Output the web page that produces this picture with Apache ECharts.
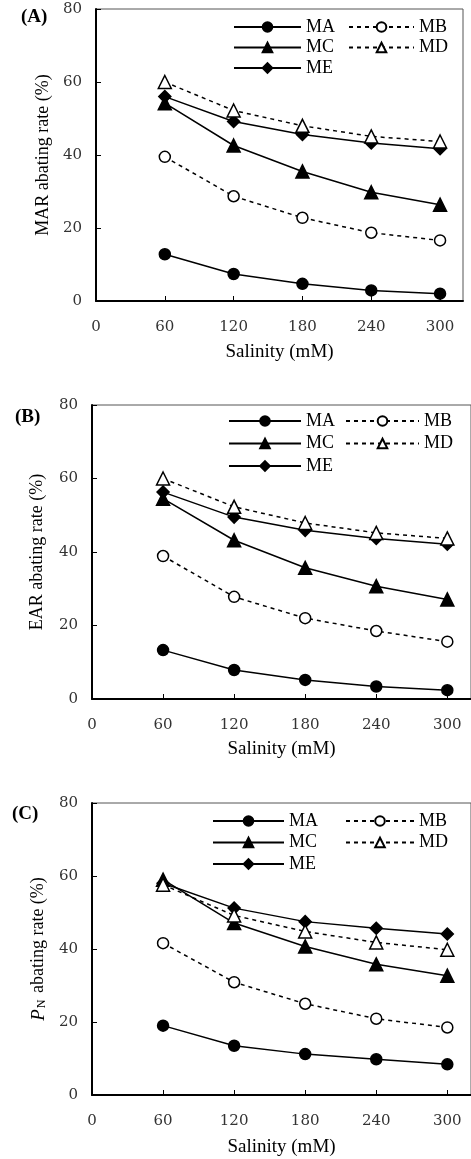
<!DOCTYPE html>
<html>
<head>
<meta charset="utf-8">
<script src="https://cdn.jsdelivr.net/npm/echarts@6/dist/echarts.min.js"></script>
<style>
  html, body { margin: 0; padding: 0; background: #fff; }
  #chart { width: 471px; height: 1159px; }
</style>
</head>
<body>
<div id="chart"></div>
<script>
// salinity levels (mM)
const salinity = [60, 120, 180, 240, 300];
const seriesNames = ['MA', 'MB', 'MC', 'MD', 'ME'];

// (A) MAR abating rate (%)
const marMA = [12.8, 7.4, 4.7, 2.9, 2.0];
const marMB = [39.5, 28.7, 22.8, 18.7, 16.6];
const marMC = [54.2, 42.6, 35.5, 29.8, 26.4];
const marMD = [60.0, 52.2, 48.0, 45.1, 43.7];
const marME = [56.0, 49.2, 45.6, 43.3, 41.7];

// (B) EAR abating rate (%)
const earMA = [13.3, 7.9, 5.2, 3.4, 2.4];
const earMB = [38.9, 27.8, 22.0, 18.5, 15.6];
const earMC = [54.5, 43.2, 35.7, 30.7, 27.1];
const earMD = [60.0, 52.3, 47.9, 45.2, 43.7];
const earME = [56.3, 49.5, 45.9, 43.7, 42.1];

// (C) PN abating rate (%)
const pnMA = [19.0, 13.5, 11.2, 9.8, 8.4];
const pnMB = [41.6, 30.9, 25.0, 20.9, 18.5];
const pnMC = [59.0, 47.1, 40.7, 35.8, 32.7];
const pnMD = [57.6, 49.2, 44.8, 41.8, 39.8];
const pnME = [58.0, 51.2, 47.5, 45.7, 44.1];

const panels = [
  { tag: '(A)', yName: 'MAR abating rate (%)', values: [marMA, marMB, marMC, marMD, marME] },
  { tag: '(B)', yName: 'EAR abating rate (%)', values: [earMA, earMB, earMC, earMD, earME] },
  { tag: '(C)', yName: '{i|P}{s|N} abating rate (%)', values: [pnMA, pnMB, pnMC, pnMD, pnME] }
];

// layout per panel
const grids = [
  { left: 96, top: 9, width: 367, height: 292 },
  { left: 92, top: 405, width: 380, height: 294 },
  { left: 92, top: 803, width: 380, height: 292 }
];
const tagPos = [[16, 3], [10, 403], [7, 800]];
const yNameGap = [44, 46, 41];
const xNameGap = [42, 41, 43];
const legendPos = [
  { top: 12, gap: 0.5, c1: 228, w1: 67, c2: 343, w2: 65 },
  { top: 406, gap: 2.5, c1: 223, w1: 72, c2: 340, w2: 73 },
  { top: 806, gap: 1.5, c1: 207, w1: 71, c2: 340, w2: 68 }
];

const serif = '"Liberation Serif", "Times New Roman", serif';
const numFont = '"DejaVu Serif", serif';

const styles = {
  MA: { symbol: 'circle', size: 11, fill: '#000', dash: 'solid' },
  MB: { symbol: 'circle', size: 11, fill: '#fff', dash: [4, 4] },
  MC: { symbol: 'triangle', size: 13, fill: '#000', dash: 'solid' },
  MD: { symbol: 'triangle', size: 13, fill: '#fff', dash: [4, 4] },
  ME: { symbol: 'diamond', size: 12, fill: '#000', dash: 'solid' }
};

const option = {
  animation: false,
  backgroundColor: '#fff',
  title: [],
  grid: [],
  xAxis: [],
  yAxis: [],
  legend: [],
  series: []
};

panels.forEach((p, i) => {
  option.grid.push(Object.assign({ show: true, borderColor: '#555', borderWidth: 1 }, grids[i]));
  option.title.push({
    text: p.tag, left: tagPos[i][0], top: tagPos[i][1],
    textStyle: { fontFamily: serif, fontSize: 19, fontWeight: 'bold', color: '#000' }
  });
  option.xAxis.push({
    type: 'value', gridIndex: i, min: 0, max: 320, interval: 60,
    name: 'Salinity (mM)', nameLocation: 'middle', nameGap: xNameGap[i],
    nameTextStyle: { fontFamily: serif, fontSize: 19, color: '#000' },
    axisLine: { lineStyle: { color: '#000', width: 2 } },
    axisTick: { inside: true, length: 5, lineStyle: { color: '#000', width: 1 } },
    axisLabel: { fontFamily: numFont, fontSize: 15, color: '#333', margin: 19, showMaxLabel: false },
    splitLine: { show: false }
  });
  option.yAxis.push({
    type: 'value', gridIndex: i, min: 0, max: 80, interval: 20,
    name: p.yName, nameLocation: 'middle', nameGap: yNameGap[i],
    nameTextStyle: {
      fontFamily: serif, fontSize: 18, color: '#000',
      rich: {
        i: { fontFamily: serif, fontSize: 19, fontStyle: 'italic', color: '#000' },
        s: { fontFamily: serif, fontSize: 12, color: '#000', padding: [7, 2, 0, 1] }
      }
    },
    axisLine: { lineStyle: { color: '#000', width: 2 } },
    axisTick: { inside: true, length: 5, lineStyle: { color: '#000', width: 1 } },
    axisLabel: { fontFamily: numFont, fontSize: 15, color: '#333', margin: 14 },
    splitLine: { show: false }
  });

  const lp = legendPos[i];
  const legendBase = {
    orient: 'vertical', top: lp.top, itemGap: lp.gap, itemHeight: 12,
    selectedMode: false,
    textStyle: { fontFamily: serif, fontSize: 18, color: '#000', lineHeight: 20 }
  };
  option.legend.push(Object.assign({}, legendBase, { left: lp.c1, itemWidth: lp.w1, data: ['MA', 'MC', 'ME'] }));
  option.legend.push(Object.assign({}, legendBase, { left: lp.c2, itemWidth: lp.w2, data: ['MB', 'MD'] }));

  seriesNames.forEach((name, k) => {
    const st = styles[name];
    option.series.push({
      name: name,
      type: 'line',
      xAxisIndex: i,
      yAxisIndex: i,
      data: salinity.map((s, j) => [s, p.values[k][j]]),
      symbol: st.symbol,
      symbolSize: st.size,
      showAllSymbol: true,
      lineStyle: { color: '#000', width: 1.5, type: st.dash },
      itemStyle: { color: st.fill, borderColor: '#000', borderWidth: 1.5 },
      z: st.fill === '#fff' ? 3 : 2
    });
  });
});

const chart = echarts.init(document.getElementById('chart'));
chart.setOption(option);
</script>
</body>
</html>
